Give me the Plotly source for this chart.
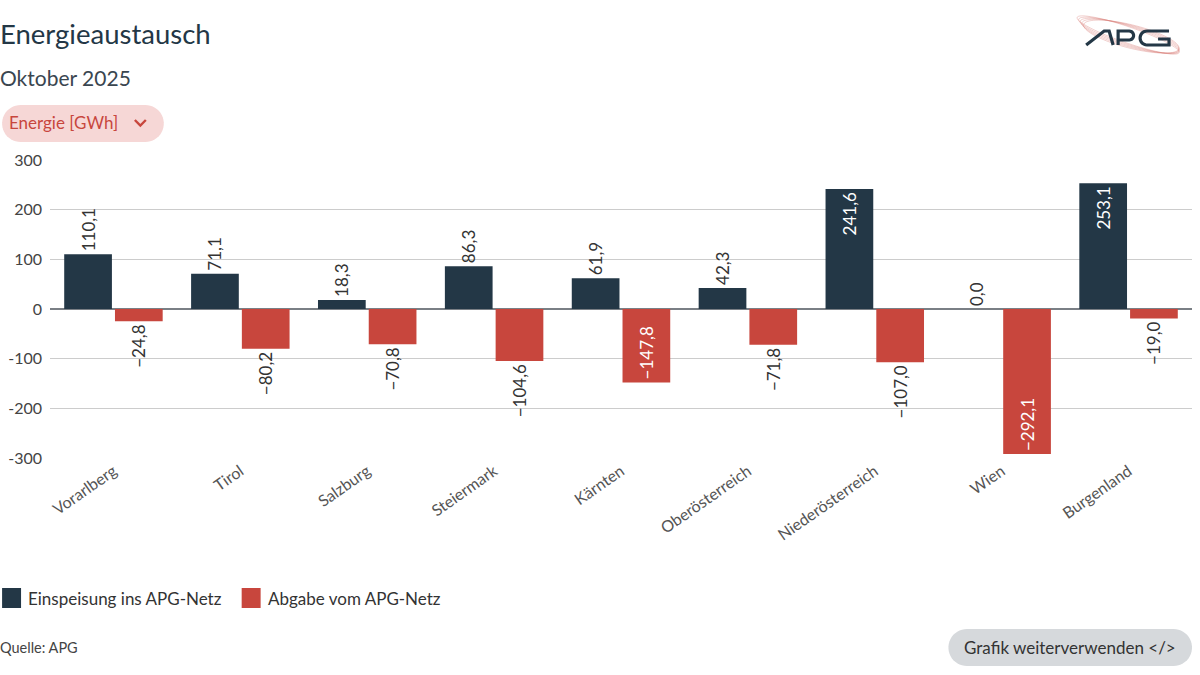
import numpy as np
import plotly.graph_objects as go

categories = ["Vorarlberg", "Tirol", "Salzburg", "Steiermark", "Kärnten",
              "Oberösterreich", "Niederösterreich", "Wien", "Burgenland"]
einspeisung = [110.1, 71.1, 18.3, 86.3, 61.9, 42.3, 241.6, 0.0, 253.1]
abgabe = [-24.8, -80.2, -70.8, -104.6, -147.8, -71.8, -107.0, -292.1, -19.0]
y_ticks = [-300, -200, -100, 0, 100, 200, 300]
series_names = ["Einspeisung ins APG-Netz", "Abgabe vom APG-Netz"]

DARK = "#233746"
RED = "#c8463d"
FONT = "Lato"

W, H = 1200, 675
L, R, T, B = 48, 8, 160, 217
PW, PH = W - L - R, H - T - B


def px(x):
    return (x - L) / PW


def py(y):
    return (H - B - y) / PH


def path_of(pts, close=False):
    s = "M " + " L ".join(f"{px(x):.5f},{py(y):.5f}" for x, y in pts)
    return s + (" Z" if close else "")


def fmt(v):
    return f"{v:.1f}".replace(".", ",").replace("-", "\u2212")


def pos(vals, inside_thresh=140):
    return ["inside" if abs(v) >= inside_thresh else "outside" for v in vals]


fig = go.Figure()
for vals, name, col in [(einspeisung, series_names[0], DARK), (abgabe, series_names[1], RED)]:
    fig.add_bar(x=categories, y=vals, name=name,
                marker=dict(color=col, line=dict(width=0)),
                text=[fmt(v) for v in vals], textposition=pos(vals),
                textangle=-90, insidetextanchor="end", cliponaxis=False,
                constraintext="none",
                insidetextfont=dict(color="white", size=17, family=FONT),
                outsidetextfont=dict(color="#333333", size=17, family=FONT),
                hoverinfo="skip", showlegend=False)


def pill(x0, y0, x1, y1, n=24):
    r = (y1 - y0) / 2
    cy = (y0 + y1) / 2
    pts = []
    for a in np.linspace(-np.pi / 2, np.pi / 2, n):
        pts.append((x1 - r + r * np.cos(a), cy + r * np.sin(a)))
    for a in np.linspace(np.pi / 2, 3 * np.pi / 2, n):
        pts.append((x0 + r + r * np.cos(a), cy + r * np.sin(a)))
    return path_of(pts, close=True)


shapes = [
    dict(type="path", xref="paper", yref="paper", path=pill(0, 105, 162, 142),
         fillcolor="#f6d7d6", line=dict(width=0), layer="below"),
    dict(type="path", xref="paper", yref="paper", path=pill(948, 629, 1192, 666),
         fillcolor="#d6d9dc", line=dict(width=0), layer="below"),
    dict(type="path", xref="paper", yref="paper",
         path=path_of([(133, 120), (138.5, 125.5), (144, 120)]),
         line=dict(color=RED, width=2.4)),
]

# legend (custom squares)
shapes.append(dict(type="rect", xref="paper", yref="paper",
                   x0=px(0), x1=px(19), y0=py(588), y1=py(608),
                   fillcolor=DARK, line=dict(width=0)))
shapes.append(dict(type="rect", xref="paper", yref="paper",
                   x0=px(240), x1=px(259), y0=py(588), y1=py(608),
                   fillcolor=RED, line=dict(width=0)))

# logo swooshes
for k in range(5):
    t = np.linspace(0, 2 * np.pi, 80)
    a, b = 54 - k * 1.2, 8 + k * 0.9
    ang = np.deg2rad(-19 + k * 1.2)
    cx, cy = 1128 + k * 0.8, 35 + k * 0.4
    xs = cx + a * np.cos(t) * np.cos(ang) - b * np.sin(t) * np.sin(ang)
    ys = cy - (a * np.cos(t) * np.sin(ang) + b * np.sin(t) * np.cos(ang))
    shapes.append(dict(type="path", xref="paper", yref="paper",
                       path=path_of(list(zip(xs, ys)), close=True),
                       line=dict(color="rgba(215,120,115,0.5)", width=0.7)))

# logo letters A P G
arc_p = [(1129 + 4.5 * np.cos(a), 35.5 + 4.5 * np.sin(a)) for a in np.linspace(-np.pi / 2, np.pi / 2, 12)]
arc_g = [(1147 + 7 * np.cos(a), 38 + 7 * np.sin(a)) for a in np.linspace(-np.pi / 2, -3 * np.pi / 2, 14)]
letters = [
    [(1086, 45), (1104, 31), (1109, 31), (1113, 45)],
    [(1118, 45), (1118, 31)] + arc_p + [(1118, 40)],
    [(1169, 31)] + arc_g + [(1169, 45), (1169, 39), (1158, 39)],
]
for pts in letters:
    shapes.append(dict(type="path", xref="paper", yref="paper", path=path_of(pts),
                       line=dict(color=DARK, width=3.2)))

annotations = [
    dict(text="Energieaustausch", x=px(-4), y=py(33), xref="paper", yref="paper",
         xanchor="left", yanchor="middle", showarrow=False,
         font=dict(size=27.5, color=DARK, family=FONT)),
    dict(text="Oktober 2025", x=px(-4), y=py(77), xref="paper", yref="paper",
         xanchor="left", yanchor="middle", showarrow=False,
         font=dict(size=21, color="#3a4650", family=FONT)),
    dict(text="Energie [GWh]", x=px(5), y=py(122), xref="paper", yref="paper",
         xanchor="left", yanchor="middle", showarrow=False,
         font=dict(size=17, color=RED, family=FONT)),
    dict(text=series_names[0], x=px(24), y=py(598), xref="paper", yref="paper",
         xanchor="left", yanchor="middle", showarrow=False,
         font=dict(size=17, color="#333333", family=FONT)),
    dict(text=series_names[1], x=px(264), y=py(598), xref="paper", yref="paper",
         xanchor="left", yanchor="middle", showarrow=False,
         font=dict(size=17, color="#333333", family=FONT)),
    dict(text="Quelle: APG", x=px(-4), y=py(647), xref="paper", yref="paper",
         xanchor="left", yanchor="middle", showarrow=False,
         font=dict(size=14.5, color="#444444", family=FONT)),
    dict(text="Grafik weiterverwenden &lt;/&gt;", x=px(1070), y=py(647), xref="paper", yref="paper",
         xanchor="center", yanchor="middle", showarrow=False,
         font=dict(size=17, color="#333333", family=FONT)),
]

fig.update_layout(
    width=W, height=H,
    margin=dict(l=L, r=R, t=T, b=B, pad=0),
    paper_bgcolor="white", plot_bgcolor="white",
    font=dict(family=FONT, color="#444444"),
    barmode="group", bargap=0.2, bargroupgap=0.06,
    separators=",.",
    showlegend=False,
    shapes=shapes, annotations=annotations,
)
fig.update_yaxes(range=[-300, 300], tickvals=y_ticks,
                 ticktext=[str(v) if v >= 0 else "-" + str(-v) for v in y_ticks],
                 showgrid=True, gridcolor="#cccccc", gridwidth=1,
                 zeroline=True, zerolinecolor="#7a7f85", zerolinewidth=1.5,
                 showline=False, ticks="", tickfont=dict(size=16, color="#444444"),
                 ticklabelstandoff=7, fixedrange=True)
fig.update_xaxes(tickangle=-35, showline=False, ticks="", showgrid=False,
                 tickfont=dict(size=16, color="#555555"), fixedrange=True)

fig.write_html("out.html", config={"displayModeBar": False},
               post_script="document.body.style.margin='0';document.body.style.padding='0';")
